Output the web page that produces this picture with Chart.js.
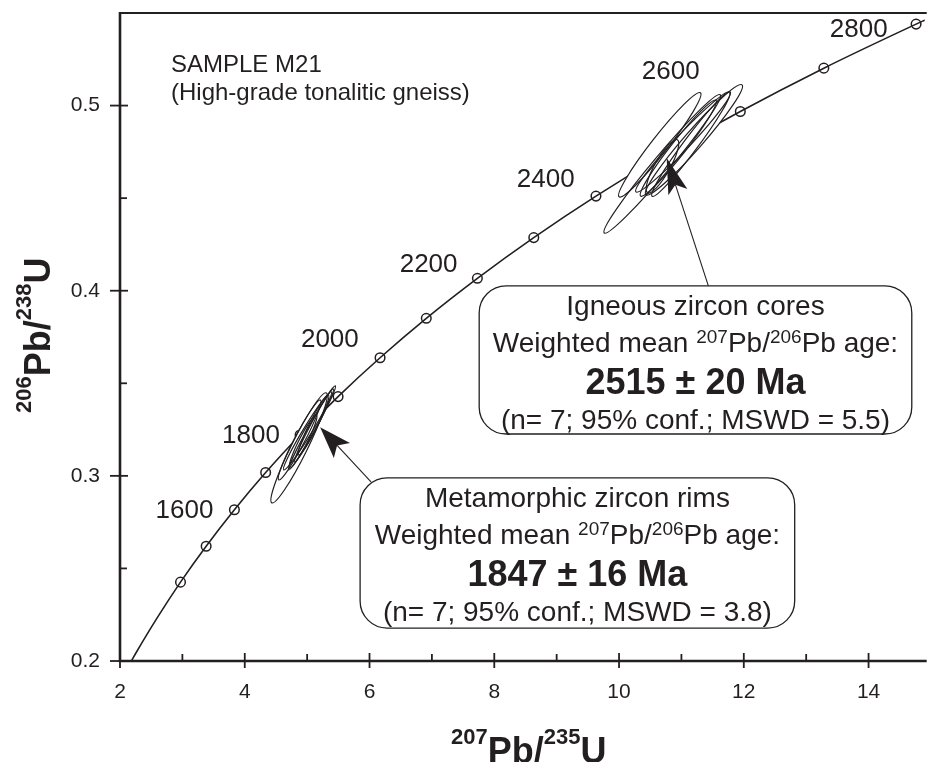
<!DOCTYPE html>
<html><head><meta charset="utf-8">
<script src="https://cdn.jsdelivr.net/npm/chart.js@4.4.1/dist/chart.umd.min.js"></script>
<style>html,body{margin:0;padding:0;background:#fff;overflow:hidden}</style>
</head><body>
<canvas id="c" width="931" height="762"></canvas>
<script>
// ---------------- data ----------------
const concordiaAge = [1175,1200,1300,1400,1500,1600,1700,1800,1900,2000,2100,2200,2300,2400,2500,2600,2700,2800,2810];
const concordiaX   = [2.182,2.260,2.598,2.970,3.381,3.834,4.335,4.887,5.496,6.169,6.910,7.729,8.633,9.630,10.730,11.944,13.283,14.762,14.918];
const concordiaY   = [0.2000,0.2046,0.2234,0.2426,0.2620,0.2817,0.3018,0.3221,0.3428,0.3638,0.3851,0.4067,0.4287,0.4511,0.4738,0.4968,0.5202,0.5440,0.5464];
const markerAges   = [1400,1500,1600,1700,1800,1900,2000,2100,2200,2300,2400,2500,2600,2700,2800];
const ageLabels    = ['1600','1800','2000','2200','2400','2600','2800'];

const xTicks      = [2,4,6,8,10,12,14];
const xTickLabels = ['2','4','6','8','10','12','14'];
const xMinorTicks = [3,5,7,9,11,13];
const yTicks      = [0.2,0.3,0.4,0.5];
const yTickLabels = ['0.2','0.3','0.4','0.5'];
const yMinorTicks = [0.25,0.35,0.45];

// igneous zircon cores: ellipse centre, half major axis vector (data units), minor/major ratio
const coreCx    = [10.653,10.693,11.201,11.027,10.696,10.950,11.150];
const coreCy    = [0.4788,0.4685,0.4815,0.4804,0.4672,0.4770,0.4790];
const coreDx    = [0.652,0.930,0.771,0.756,0.239,0.604,0.620];
const coreDy    = [0.0281,0.0373,0.0297,0.0270,0.0143,0.0259,0.0280];
const coreRatio = [0.125,0.095,0.125,0.110,0.250,0.120,0.110];

// metamorphic zircon rims
const rimCx    = [4.871,5.078,5.110,5.006,4.935,5.102,4.879];
const rimCy    = [0.3151,0.3259,0.3272,0.3243,0.3186,0.3275,0.3194];
const rimDx    = [0.437,0.374,0.310,0.382,0.215,0.239,0.334];
const rimDy    = [0.0297,0.0227,0.0197,0.0211,0.0143,0.0162,0.0216];
const rimRatio = [0.130,0.070,0.080,0.095,0.140,0.125,0.115];

// ---------------- layout / annotation config ----------------
const FONT = "'Liberation Sans', Arial, Helvetica, sans-serif";
const INK = '#231f20';
const ageLabelAnchors = [[3.034,0.2773],[4.100,0.3178],[5.364,0.3696],[6.947,0.4102],[8.824,0.4561],[10.828,0.5144],[13.842,0.5371]];
const boxes = [
  { x0:7.758, x1:14.693, y0:0.4026, y1:0.3226,
    title:'Igneous zircon cores', age:'2515 \u00b1 20 Ma', stats:'(n= 7; 95% conf.; MSWD = 5.5)',
    tail:[11.432,0.4026], tip:[10.764,0.4717], headL:36, headW:10 },
  { x0:5.849, x1:12.816, y0:0.2989, y1:0.2178,
    title:'Metamorphic zircon rims', age:'1847 \u00b1 16 Ma', stats:'(n= 7; 95% conf.; MSWD = 3.8)',
    tail:[6.024,0.2967], tip:[5.208,0.3263], headL:32, headW:11 }
];

const curvePts  = concordiaX.map((x,i)=>({x, y:concordiaY[i]}));
const markerPts = markerAges.map(a=>{ const i = concordiaAge.indexOf(a); return {x:concordiaX[i], y:concordiaY[i]}; });

function ellipse(ctx, xs, ys, cx, cy, dx, dy, r){
  const px = xs.getPixelForValue(cx), py = ys.getPixelForValue(cy);
  const tx = xs.getPixelForValue(cx+dx), ty = ys.getPixelForValue(cy+dy);
  const a = Math.hypot(tx-px, ty-py), ang = Math.atan2(ty-py, tx-px);
  ctx.beginPath(); ctx.ellipse(px, py, a, a*r, ang, 0, Math.PI*2);
}
function roundRect(ctx, x, y, w, h, r){
  ctx.beginPath();
  ctx.moveTo(x+r, y); ctx.lineTo(x+w-r, y); ctx.arcTo(x+w, y, x+w, y+r, r);
  ctx.lineTo(x+w, y+h-r); ctx.arcTo(x+w, y+h, x+w-r, y+h, r);
  ctx.lineTo(x+r, y+h); ctx.arcTo(x, y+h, x, y+h-r, r);
  ctx.lineTo(x, y+r); ctx.arcTo(x, y, x+r, y, r); ctx.closePath();
}
function runs(ctx, parts, cx, y){
  let w = 0;
  parts.forEach(p=>{ ctx.font = p.f; p.w = ctx.measureText(p.t).width; w += p.w; });
  let x = cx - w/2;
  parts.forEach(p=>{ ctx.font = p.f; ctx.fillText(p.t, x, y - (p.up||0)); x += p.w; });
}

const overlay = {
  id:'overlay',
  afterDatasetsDraw(chart){
    const ctx = chart.ctx, xs = chart.scales.x, ys = chart.scales.y;
    ctx.save();
    const groups = [[coreCx,coreCy,coreDx,coreDy,coreRatio],[rimCx,rimCy,rimDx,rimDy,rimRatio]];
    groups.forEach(g=>{
      ctx.fillStyle = '#fff';
      g[0].forEach((_,i)=>{ ellipse(ctx,xs,ys,g[0][i],g[1][i],g[2][i],g[3][i],g[4][i]); ctx.fill(); });
      ctx.strokeStyle = INK; ctx.lineWidth = 1.2;
      g[0].forEach((_,i)=>{ ellipse(ctx,xs,ys,g[0][i],g[1][i],g[2][i],g[3][i],g[4][i]); ctx.stroke(); });
    });
    ctx.fillStyle = INK; ctx.font = '26px ' + FONT; ctx.textAlign = 'center'; ctx.textBaseline = 'alphabetic';
    ageLabels.forEach((t,i)=>{
      ctx.fillText(t, xs.getPixelForValue(ageLabelAnchors[i][0]), ys.getPixelForValue(ageLabelAnchors[i][1]));
    });
    ctx.textAlign = 'left'; ctx.font = '24px ' + FONT;
    ctx.fillText('SAMPLE M21', 171, 72);
    ctx.fillText('(High-grade tonalitic gneiss)', 171, 100);
    boxes.forEach(b=>{
      const x0 = xs.getPixelForValue(b.x0), x1 = xs.getPixelForValue(b.x1);
      const y0 = ys.getPixelForValue(b.y0), y1 = ys.getPixelForValue(b.y1);
      const tx = xs.getPixelForValue(b.tail[0]), ty = ys.getPixelForValue(b.tail[1]);
      const hx = xs.getPixelForValue(b.tip[0]),  hy = ys.getPixelForValue(b.tip[1]);
      const L = Math.hypot(hx-tx, hy-ty), ux = (hx-tx)/L, uy = (hy-ty)/L, nx = -uy, ny = ux;
      const nX = hx - ux*b.headL*0.78, nY = hy - uy*b.headL*0.78;
      ctx.strokeStyle = INK; ctx.lineWidth = 1.1;
      ctx.beginPath(); ctx.moveTo(tx,ty); ctx.lineTo(nX,nY); ctx.stroke();
      ctx.fillStyle = INK; ctx.beginPath();
      ctx.moveTo(hx,hy);
      ctx.lineTo(hx-ux*b.headL+nx*b.headW, hy-uy*b.headL+ny*b.headW);
      ctx.lineTo(nX,nY);
      ctx.lineTo(hx-ux*b.headL-nx*b.headW, hy-uy*b.headL-ny*b.headW);
      ctx.closePath(); ctx.fill();
      roundRect(ctx, x0, y0, x1-x0, y1-y0, 27);
      ctx.fillStyle = '#fff'; ctx.fill(); ctx.lineWidth = 1.3; ctx.strokeStyle = INK; ctx.stroke();
      const cx = (x0+x1)/2;
      ctx.fillStyle = INK; ctx.textAlign = 'center'; ctx.font = '28px ' + FONT;
      ctx.fillText(b.title, cx, y0+29.5);
      ctx.textAlign = 'left';
      const f = '28px ' + FONT, s = '19px ' + FONT;
      runs(ctx, [{t:'Weighted mean ',f},{t:'207',f:s,up:9},{t:'Pb/',f},{t:'206',f:s,up:9},{t:'Pb age:',f}], cx, y0+66.5);
      ctx.textAlign = 'center';
      ctx.font = 'bold 36px ' + FONT; ctx.fillText(b.age, cx, y0+108.5);
      ctx.font = '28px ' + FONT; ctx.fillText(b.stats, cx, y0+143);
    });
    ctx.restore();
  },
  afterDraw(chart){
    const ctx = chart.ctx, xs = chart.scales.x, ys = chart.scales.y, a = chart.chartArea;
    ctx.save();
    ctx.strokeStyle = INK; ctx.lineCap = 'butt';
    ctx.lineWidth = 2; ctx.beginPath(); ctx.moveTo(a.left, a.top); ctx.lineTo(a.right+2, a.top); ctx.stroke();
    ctx.lineWidth = 2.6; ctx.beginPath();
    ctx.moveTo(a.left, a.top-1); ctx.lineTo(a.left, a.bottom); ctx.lineTo(a.right+2, a.bottom); ctx.stroke();
    ctx.lineWidth = 1.8;
    xTicks.forEach(v=>{ const p = xs.getPixelForValue(v); ctx.beginPath(); ctx.moveTo(p, a.bottom-8); ctx.lineTo(p, a.bottom+7); ctx.stroke(); });
    xMinorTicks.forEach(v=>{ const p = xs.getPixelForValue(v); ctx.beginPath(); ctx.moveTo(p, a.bottom-7); ctx.lineTo(p, a.bottom); ctx.stroke(); });
    yTicks.forEach(v=>{ const p = ys.getPixelForValue(v); ctx.beginPath(); ctx.moveTo(a.left-10, p); ctx.lineTo(a.left+8, p); ctx.stroke(); });
    yMinorTicks.forEach(v=>{ const p = ys.getPixelForValue(v); ctx.beginPath(); ctx.moveTo(a.left, p); ctx.lineTo(a.left+7, p); ctx.stroke(); });
    ctx.fillStyle = INK; ctx.textAlign = 'left'; ctx.textBaseline = 'alphabetic';
    const big = 'bold 36px ' + FONT, sm = 'bold 22px ' + FONT;
    function title(parts){
      let x = 0;
      parts.forEach(p=>{ ctx.font = p.f; ctx.fillText(p.t, x, -(p.up||0)); x += ctx.measureText(p.t).width; });
    }
    ctx.save(); ctx.translate(451, 763);
    title([{t:'207',f:sm,up:19},{t:'Pb/',f:big},{t:'235',f:sm,up:19},{t:'U',f:big}]);
    ctx.restore();
    ctx.save(); ctx.translate(50, 413); ctx.rotate(-Math.PI/2);
    title([{t:'206',f:sm,up:19},{t:'Pb/',f:big},{t:'238',f:sm,up:19},{t:'U',f:big}]);
    ctx.restore();
    ctx.restore();
  }
};

new Chart(document.getElementById('c'), {
  type:'scatter',
  data:{ datasets:[
    { data:curvePts, showLine:true, borderColor:INK, borderWidth:1.6, pointRadius:0, cubicInterpolationMode:'monotone', fill:false },
    { data:markerPts, showLine:false, pointRadius:4.8, pointBackgroundColor:'#fff', pointBorderColor:INK, pointBorderWidth:1.5 }
  ]},
  options:{
    responsive:false, animation:false, events:[],
    layout:{ padding:{ top:13, left:0, right:0, bottom:0 } },
    plugins:{ legend:{display:false}, tooltip:{enabled:false} },
    scales:{
      x:{ type:'linear', min:2, max:14.9,
          afterBuildTicks:s=>{ s.ticks = xTicks.map(v=>({value:v})); },
          afterFit:s=>{ s.height = 101; s.paddingLeft = 0; s.paddingRight = 0; },
          grid:{ display:false, drawTicks:false }, border:{ display:false },
          ticks:{ padding:19, color:INK, font:{ family:FONT, size:21 }, maxRotation:0,
                  callback:(v)=>xTickLabels[xTicks.indexOf(v)] } },
      y:{ type:'linear', min:0.2, max:0.55,
          afterBuildTicks:s=>{ s.ticks = yTicks.map(v=>({value:v})); },
          afterFit:s=>{ s.width = 120; s.paddingTop = 0; s.paddingBottom = 0; },
          grid:{ display:false, drawTicks:false }, border:{ display:false },
          ticks:{ padding:20, color:INK, font:{ family:FONT, size:21 },
                  callback:(v)=>yTickLabels[yTicks.indexOf(v)] } }
    }
  },
  plugins:[overlay]
});
</script>
</body></html>
